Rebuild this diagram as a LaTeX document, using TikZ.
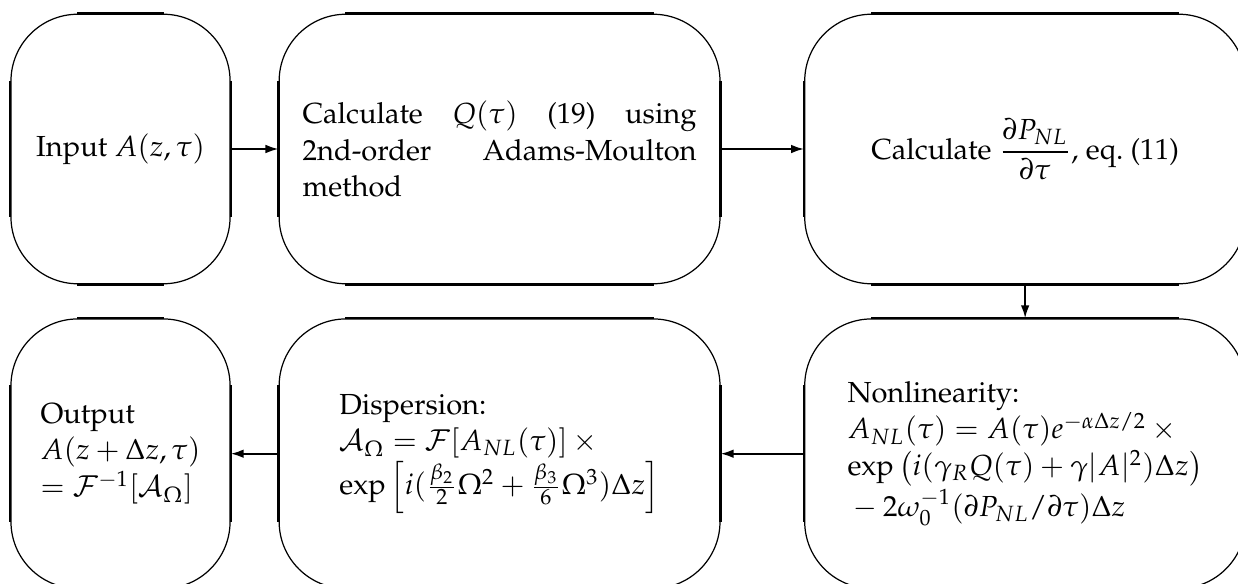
\documentclass[tikz,border=0pt]{standalone}
\usepackage[T1]{fontenc}
\usepackage{amsmath}
\usepackage{mathpazo}
\usetikzlibrary{positioning,arrows.meta}

\begin{document}
\begin{tikzpicture}[every node/.style={font=\fontsize{9.5}{12}\selectfont},
    stepbox/.style={draw,line width=.4pt,rounded corners=.77cm,minimum height=3.1cm,inner sep=0pt},
    narrowbox/.style={stepbox,minimum width=2.52cm},
    widebox/.style={stepbox,minimum width=5.07cm},
    side/.style={line width=.75pt},
    flow/.style={-{Latex[length=1.5mm,width=1mm]},line width=.65pt},
    node distance=.39cm and .55cm]
    \useasboundingbox (0,0) rectangle (14.237,-6.7045);
    % upper row
    \node[narrowbox] (input) at (1.386,-1.7135) {Input $A(z,\tau)$};
    \node[widebox,right=of input,text width=4.53cm,align=justify] (moulton)
        {Calculate $Q(\tau)$ (19) using\linebreak 2nd-order Adams-Moulton\linebreak method};
    \node[widebox,right=.96cm of moulton] (deriv)
        {Calculate $\dfrac{\partial P_{NL}}{\partial\tau}$, eq.~(11)};
    % lower row
    \node[widebox,below=of deriv,align=left] (nonlin)
        {Nonlinearity:\\
         $A_{NL}(\tau)=A(\tau)e^{-\alpha\Delta z/2}\times{}$\\
         $\exp\left(i(\gamma_RQ(\tau)+\gamma|A|^2)\Delta z\right)$\\
         ${}-2\omega_0^{-1}(\partial P_{NL}/\partial\tau)\Delta z$};
    \node[widebox,left=.96cm of nonlin,align=left] (disp)
        {Dispersion:\\
         $\mathcal{A}_\Omega=\mathcal{F}[A_{NL}(\tau)]\times{}$\\
         $\exp\left[i(\tfrac{\beta_2}{2}\Omega^2+\tfrac{\beta_3}{6}\Omega^3)\Delta z\right]$};
    \node[narrowbox,left=of disp,align=left] (output)
        {Output\\ $A(z+\Delta z,\tau)$\\ $=\mathcal{F}^{-1}[\mathcal{A}_\Omega]$};
    % straight sides a bit heavier than the corners
    \foreach \n in {input,moulton,deriv,nonlin,disp,output}
        \draw[side] ([xshift=.77cm]\n.north west) -- ([xshift=-.77cm]\n.north east)
                    ([xshift=.77cm]\n.south west) -- ([xshift=-.77cm]\n.south east)
                    ([yshift=-.77cm]\n.north west) -- ([yshift=.77cm]\n.south west)
                    ([yshift=-.77cm]\n.north east) -- ([yshift=.77cm]\n.south east);
    % connectors
    \draw[flow] (input) -- (moulton);
    \draw[flow] (moulton) -- (deriv);
    \draw[flow] (deriv) -- (nonlin);
    \draw[flow] (nonlin) -- (disp);
    \draw[flow] (disp) -- (output);
\end{tikzpicture}
\end{document}
